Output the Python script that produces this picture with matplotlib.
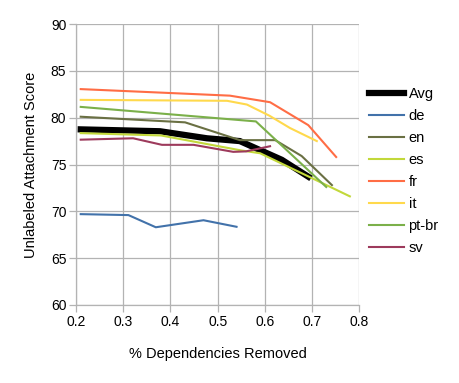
import matplotlib
matplotlib.use("Agg")
import matplotlib.pyplot as plt

plt.rcParams['font.family'] = ['Liberation Sans', 'DejaVu Sans']

avg_x = [0.21, 0.378, 0.477, 0.547, 0.636, 0.692]
avg_y = [78.75, 78.55, 77.8, 77.5, 75.5, 73.7]

de_x = [0.21, 0.311, 0.369, 0.47, 0.54]
de_y = [69.7, 69.6, 68.3, 69.05, 68.35]

en_x = [0.21, 0.431, 0.547, 0.622, 0.678, 0.742]
en_y = [80.1, 79.5, 77.6, 77.6, 75.9, 72.8]

es_x = [0.21, 0.38, 0.55, 0.59, 0.78]
es_y = [78.35, 78.1, 76.5, 76.2, 71.6]

fr_x = [0.21, 0.526, 0.611, 0.692, 0.751]
fr_y = [83.05, 82.35, 81.65, 79.2, 75.8]

it_x = [0.21, 0.52, 0.562, 0.61, 0.653, 0.71]
it_y = [81.9, 81.8, 81.4, 80.2, 78.9, 77.5]

ptbr_x = [0.21, 0.581, 0.73]
ptbr_y = [81.15, 79.6, 72.6]

sv_x = [0.21, 0.321, 0.382, 0.449, 0.533, 0.56, 0.611]
sv_y = [77.65, 77.8, 77.1, 77.1, 76.35, 76.4, 76.95]

series = [
    ("Avg", avg_x, avg_y, "#000000", 4.5),
    ("de", de_x, de_y, "#4272aa", 1.5),
    ("en", en_x, en_y, "#6a7043", 1.5),
    ("es", es_x, es_y, "#c2d83a", 1.5),
    ("fr", fr_x, fr_y, "#ff6d45", 1.5),
    ("it", it_x, it_y, "#ffd94c", 1.5),
    ("pt-br", ptbr_x, ptbr_y, "#7bb04a", 1.5),
    ("sv", sv_x, sv_y, "#9d3a5c", 1.5),
]

fig = plt.figure(figsize=(4.59, 3.83), dpi=100)
ax = fig.add_axes([76/459, 1-305/383, (359.3-76)/459, (305-24)/383])

for name, xs, ys, c, lw in series:
    ax.plot(xs, ys, color=c, lw=lw, label=name, solid_joinstyle='miter' if lw > 3 else 'round')

ax.set_xlim(0.2, 0.8)
ax.set_ylim(60, 90)
ax.set_xticks([0.2, 0.3, 0.4, 0.5, 0.6, 0.7, 0.8])
ax.set_xticklabels(["0.2", "0.3", "0.4", "0.5", "0.6", "0.7", "0.8"])
ax.set_yticks([60, 65, 70, 75, 80, 85, 90])
ax.grid(True, color="#b3b3b3", lw=0.9)
ax.set_axisbelow(True)
for s in ["top", "right"]:
    ax.spines[s].set_visible(False)
for s in ["left", "bottom"]:
    ax.spines[s].set_color("#b3b3b3")
    ax.spines[s].set_linewidth(0.9)
ax.tick_params(colors="#b3b3b3", labelcolor="black", labelsize=10, length=5, width=0.9, pad=2)

ax.set_xlabel("% Dependencies Removed", fontsize=10.5, labelpad=13)
ax.set_ylabel("Unlabeled Attachment Score", fontsize=10.5, labelpad=9)

leg = fig.legend(loc="upper left", bbox_to_anchor=(356/459, 1-74/383), frameon=False,
                 fontsize=10.5, handlelength=2.4, labelspacing=0.55, handletextpad=0.3)

fig.savefig("out.png", dpi=100)
